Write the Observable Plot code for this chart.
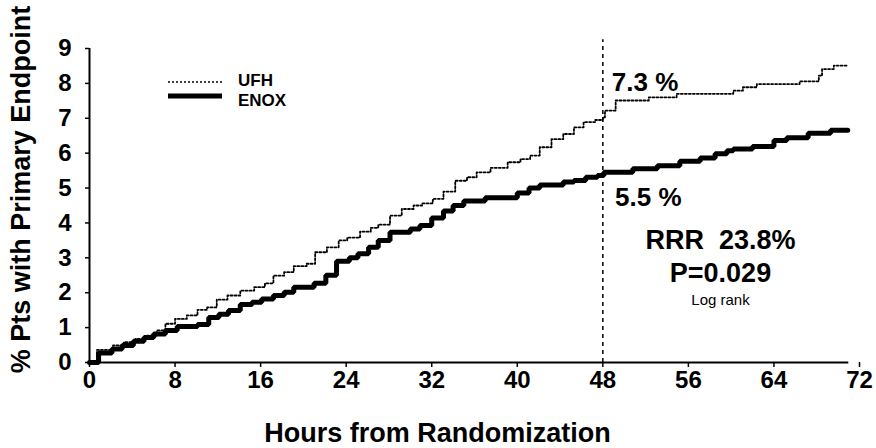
<!DOCTYPE html>
<html>
<head>
<meta charset="utf-8">
<script src="https://cdn.jsdelivr.net/npm/d3@7"></script>
<script src="https://cdn.jsdelivr.net/npm/@observablehq/plot@0.6"></script>
<style>
  html, body { margin: 0; padding: 0; background: #fff; }
  #wrap { position: relative; width: 876px; height: 448px; font-family: "Liberation Sans", Arial, sans-serif; }
  #legend { position: absolute; left: 168px; top: 74px; font-weight: bold; font-size: 17px; }
  #legend .row { position: relative; height: 20px; }
  #legend svg { position: absolute; left: 0; }
  #legend span { position: absolute; left: 70px; white-space: nowrap; }
</style>
</head>
<body>
<div id="wrap">
  <div id="chart"></div>
  <div id="legend"></div>
</div>
<script>
// Series names
const seriesNames = ["UFH", "ENOX"];

// UFH (dotted) step curve: hours and cumulative %
const ufhT = [0, 0.7, 2.2, 3.2, 4.3, 5.4, 6.3, 7.1, 8.0, 9.1, 10.1, 11.0, 11.9, 12.9, 14.1, 15.4, 16.4, 17.2, 18.2, 19.1, 20.3, 21.1, 22.2, 23.3, 24.1, 25.3, 26.3, 27.0, 28.1, 29.2, 30.3, 31.1, 32.1, 33.1, 34.2, 35.3, 36.2, 37.5, 39.1, 40.3, 41.2, 42.1, 43.2, 44.3, 45.3, 46.2, 47.3, 48.0, 48.2, 49.2, 52.3, 54.9, 60.2, 61.1, 62.4, 66.4, 68.2, 68.5, 69.6, 70.8];
const ufhY = [0, 0.36, 0.49, 0.58, 0.68, 0.77, 0.92, 1.11, 1.25, 1.35, 1.51, 1.58, 1.80, 1.92, 2.06, 2.16, 2.27, 2.49, 2.59, 2.76, 2.83, 3.16, 3.30, 3.50, 3.58, 3.75, 3.86, 3.95, 4.21, 4.40, 4.50, 4.56, 4.69, 4.90, 5.21, 5.31, 5.45, 5.58, 5.74, 5.83, 5.93, 6.17, 6.40, 6.55, 6.74, 6.89, 6.95, 7.03, 7.22, 7.51, 7.60, 7.70, 7.79, 7.89, 7.98, 8.06, 8.22, 8.41, 8.51, 8.51];

// ENOX (solid thick) step curve
const enoxT = [0, 0.85, 2.1, 3.05, 4.1, 5.1, 6.0, 7.1, 8.2, 10.1, 11.15, 12.1, 13.0, 14.1, 15.2, 16.1, 17.2, 18.2, 19.1, 21.0, 22.1, 23.1, 24.3, 25.1, 26.1, 27.0, 28.1, 30.0, 30.9, 32.0, 33.1, 34.0, 35.0, 37.0, 40.0, 41.1, 42.1, 44.3, 45.3, 46.4, 47.5, 48.1, 50.8, 53.1, 55.2, 57.1, 58.5, 59.6, 60.2, 62.0, 64.0, 65.2, 67.2, 69.3, 70.9];
const enoxY = [0, 0.27, 0.39, 0.49, 0.61, 0.72, 0.82, 0.92, 1.03, 1.09, 1.29, 1.38, 1.49, 1.66, 1.73, 1.82, 1.92, 2.01, 2.16, 2.27, 2.50, 2.90, 3.00, 3.12, 3.30, 3.50, 3.73, 3.83, 3.93, 4.14, 4.34, 4.50, 4.63, 4.72, 4.86, 5.00, 5.09, 5.17, 5.22, 5.31, 5.36, 5.45, 5.55, 5.64, 5.77, 5.86, 5.98, 6.07, 6.12, 6.19, 6.36, 6.44, 6.57, 6.66, 6.66];

// Axes
const xTicks = [0, 8, 16, 24, 32, 40, 48, 56, 64, 72];
const yTicks = [0, 1, 2, 3, 4, 5, 6, 7, 8, 9];
const xTitle = "Hours from Randomization";
const yTitle = "% Pts with Primary Endpoint";

// Reference hour and annotations
const refHour = [48];
const rateNotes = [
  {text: "7.3 %", x: 48, y: 8.02},
  {text: "5.5 %", x: 48.3, y: 4.73}
];
const statNotes = [
  {text: "RRR  23.8%", x: 59.0, y: 3.5},
  {text: "P=0.029", x: 59.0, y: 2.55}
];
const smallNotes = [{text: "Log rank", x: 59.0, y: 1.78}];

const ufh = ufhT.map((t, i) => ({t, v: ufhY[i]}));
const enox = enoxT.map((t, i) => ({t, v: enoxY[i]}));

const font = "'Liberation Sans', Arial, sans-serif";

const chart = Plot.plot({
  width: 876,
  height: 448,
  marginLeft: 89,
  marginRight: 17,
  marginTop: 48,
  marginBottom: 86,
  x: {domain: [0, 72]},
  y: {domain: [0, 9]},
  style: {fontFamily: font, background: "white", color: "black", overflow: "visible"},
  marks: [
    Plot.axisX({ticks: xTicks, tickSize: 5, tickPadding: 3, fontSize: 24, fontWeight: "bold", strokeWidth: 1.5, label: null}),
    Plot.axisY({ticks: yTicks, tickSize: 4, tickPadding: 14, fontSize: 24, fontWeight: "bold", strokeWidth: 1.5, label: null}),
    Plot.ruleX([0], {y1: 0, y2: 9, stroke: "black", strokeWidth: 2}),
    Plot.ruleY([0], {x1: 0, x2: 71, stroke: "black", strokeWidth: 2}),
    Plot.ruleX(refHour, {y1: 0, y2: 9.25, stroke: "black", strokeWidth: 1.5, strokeDasharray: "4,4"}),
    Plot.line(ufh, {x: "t", y: "v", curve: "step-after", stroke: "black", strokeWidth: 1.8, strokeDasharray: "2,2"}),
    Plot.line(enox, {x: "t", y: "v", curve: "step-after", stroke: "black", strokeWidth: 5, strokeLinejoin: "miter"}),
    Plot.text(rateNotes, {x: "x", y: "y", text: "text", textAnchor: "start", dx: 9, fontSize: 26, fontWeight: "bold", fill: "black"}),
    Plot.text(statNotes, {x: "x", y: "y", text: "text", textAnchor: "middle", fontSize: 27, fontWeight: "bold", fill: "black"}),
    Plot.text(smallNotes, {x: "x", y: "y", text: "text", textAnchor: "middle", fontSize: 15, fill: "black"}),
    Plot.text([yTitle], {text: d => d, frameAnchor: "left", textAnchor: "middle", lineAnchor: "middle", rotate: -90, dx: -68, dy: -16, fontSize: 27, fontWeight: "bold", fill: "black"}),
    Plot.text([xTitle], {text: d => d, frameAnchor: "bottom", textAnchor: "middle", lineAnchor: "middle", dx: -37, dy: 71, fontSize: 27, fontWeight: "bold", fill: "black"})
  ]
});
document.getElementById("chart").appendChild(chart);

// Legend
const legend = document.getElementById("legend");
const styles = [
  {dash: "2,2", width: 1.7},
  {dash: null, width: 5}
];
seriesNames.forEach((name, i) => {
  const row = document.createElement("div");
  row.className = "row";
  row.style.height = i === 0 ? "17px" : "20px";
  const s = styles[i];
  row.innerHTML = `<svg width="56" height="10" style="top:${i === 0 ? 3 : 0}px"><line x1="0" x2="54" y1="5" y2="5" stroke="black" stroke-width="${s.width}" ${s.dash ? `stroke-dasharray="${s.dash}"` : ""}/></svg><span style="top:${i === 0 ? -3 : 0}px">${name}</span>`;
  legend.appendChild(row);
});
</script>
</body>
</html>
